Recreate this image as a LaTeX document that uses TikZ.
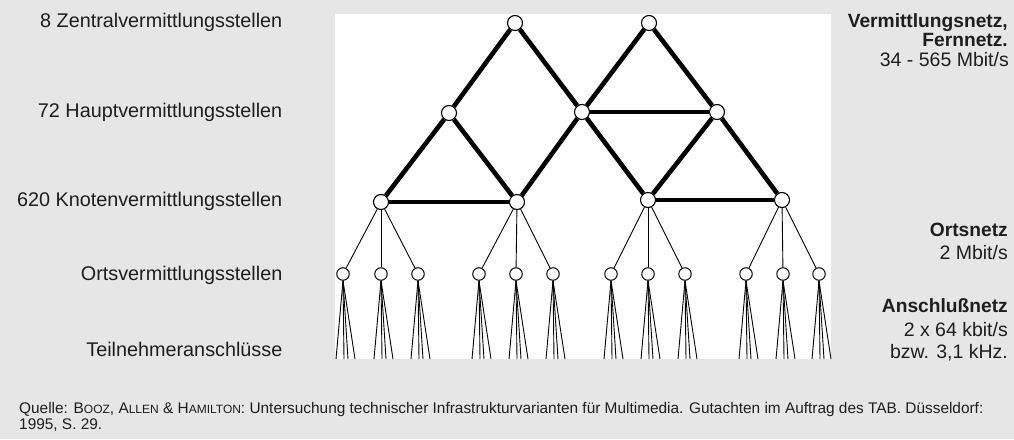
\documentclass[tikz,border=0pt]{standalone}
\usepackage{fontspec}
\setmainfont{Liberation Sans}
\definecolor{bggray}{HTML}{E6E6E6}
\definecolor{txt}{HTML}{1E1E1E}
\newcommand{\fsc}[1]{{\fontsize{12}{14}\selectfont #1}}
\begin{document}
\begin{tikzpicture}[x=1pt,y=-1pt,
  big/.style={circle,draw,fill=white,line width=1.1pt,minimum size=15pt,inner sep=0pt},
  small/.style={circle,draw,fill=white,line width=1pt,minimum size=12.5pt,inner sep=0pt},
  trunk/.style={line width=4.6pt},
  branch/.style={line width=0.9pt},
  fanline/.style={line width=0.9pt},
  lab/.style={anchor=base east,inner sep=0pt,text=txt,font=\fontsize{19.8}{23}\selectfont},
  rlab/.style={anchor=base east,inner sep=0pt,text=txt,font=\fontsize{19.5}{23}\selectfont},
  rbold/.style={anchor=base east,inner sep=0pt,text=txt,font=\fontsize{19.2}{22}\selectfont\bfseries},
  foot/.style={anchor=base west,inner sep=0pt,text=txt,font=\fontsize{15.4}{18}\selectfont}
]
\fill[bggray] (0,0) rectangle (1014,439);
\fill[white] (335,14) rectangle (831,359);

% nodes
\node[big] (Z1) at (515,23) {};
\node[big] (Z2) at (649,23) {};
\node[big] (H1) at (449,113) {};
\node[big] (H2) at (582,112) {};
\node[big] (H3) at (717,112) {};
\node[big] (K1) at (381,202) {};
\node[big] (K2) at (517,202) {};
\node[big] (K3) at (648,200) {};
\node[big] (K4) at (782,200) {};
\foreach \i/\x in {1/343,2/381,3/418,4/479,5/516,6/553,7/611,8/648,9/685,10/746,11/783,12/819}{
  \node[small] (O\i) at (\x,274) {};
  \coordinate (T\i a) at (\x-7,359);
  \coordinate (T\i b) at (\x+1,359);
  \coordinate (T\i c) at (\x+5,359);
  \coordinate (T\i d) at (\x+12,359);
}

% trunk lines
\draw[trunk] (Z1) -- (H1);
\draw[trunk] (Z1) -- (H2);
\draw[trunk] (Z2) -- (H2);
\draw[trunk] (Z2) -- (H3);
\draw[trunk] (H1) -- (K1);
\draw[trunk] (H1) -- (K2);
\draw[trunk] (H2) -- (K2);
\draw[trunk] (H2) -- (K3);
\draw[trunk] (H3) -- (K3);
\draw[trunk] (H3) -- (K4);
\draw[trunk] (H2) -- (H3);
\draw[trunk] (K1) -- (K2);
\draw[trunk] (K3) -- (K4);

% branches
\foreach \k/\a/\b/\c in {K1/1/2/3,K2/4/5/6,K3/7/8/9,K4/10/11/12}{
  \draw[branch] (\k) -- (O\a);
  \draw[branch] (\k) -- (O\b);
  \draw[branch] (\k) -- (O\c);
}
% fans
\foreach \i in {1,...,12}{
  \draw[fanline] (O\i.south) -- (T\i a);
  \draw[fanline] (O\i.south) -- (T\i b);
  \draw[fanline] (O\i.south) -- (T\i c);
  \draw[fanline] (O\i.south) -- (T\i d);
}

% left labels
\node[lab] (L1) at (282.5,27.3) {8 Zentralvermittlungsstellen};
\node[lab] (L2) at (282.5,117.3) {72 Hauptvermittlungsstellen};
\node[lab] (L3) at (282.5,206) {620 Knotenvermittlungsstellen};
\node[lab] (L4) at (282.5,280) {Ortsvermittlungsstellen};
\node[lab] (L5) at (282.5,356.7) {Teilnehmeranschlüsse};

% right labels
\node[rbold] (R1) at (1008,27.3) {Vermittlungsnetz,};
\node[rbold] (R2) at (1008,46.7) {Fernnetz.};
\node[rlab] (R3) at (1009,66.7) {34 - 565 Mbit/s};
\node[rbold] (R4) at (1008,236) {Ortsnetz};
\node[rlab] (R5) at (1008,259) {2 Mbit/s};
\node[rbold] (R6) at (1008,312.7) {Anschlußnetz};
\node[rlab] (R7) at (1008,336.7) {2 x 64 kbit/s};
\node[rlab] (R8) at (1008,358.3) {bzw. 3,1 kHz.};

% footer
\node[foot] (F1) at (19,413.5) {Quelle: B\fsc{OOZ}, A\fsc{LLEN} \& H\fsc{AMILTON}: Untersuchung technischer Infrastrukturvarianten für Multimedia. Gutachten im Auftrag des TAB. Düsseldorf:};
\node[foot] (F2) at (19,429.5) {1995, S. 29.};
\end{tikzpicture}
\end{document}
